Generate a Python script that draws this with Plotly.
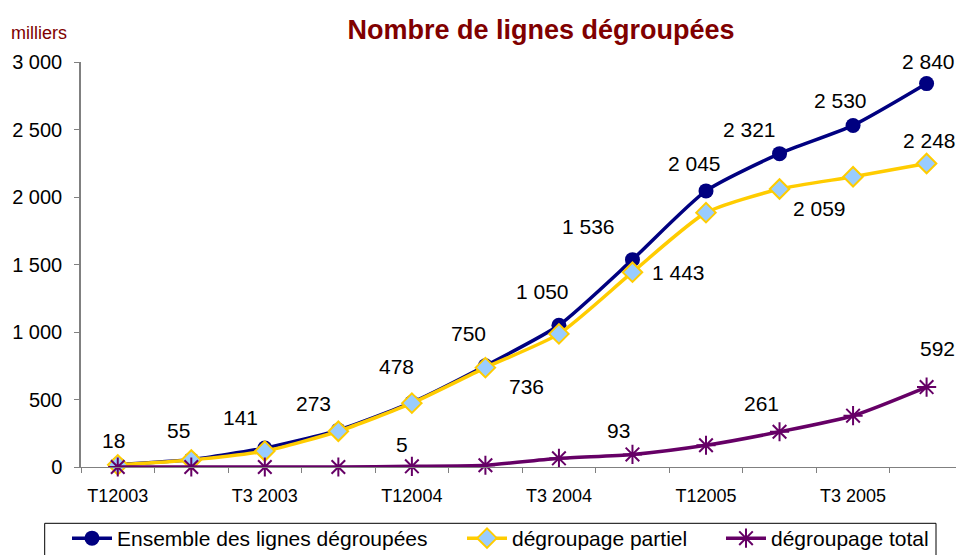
import plotly.graph_objects as go

quarters = ["T1 2003", "T2 2003", "T3 2003", "T4 2003",
            "T1 2004", "T2 2004", "T3 2004", "T4 2004",
            "T1 2005", "T2 2005", "T3 2005", "T4 2005"]
tick_labels = ["T12003", "T3 2003", "T12004", "T3 2004", "T12005", "T3 2005"]
ensemble = [18, 55, 141, 273, 478, 750, 1050, 1536, 2045, 2321, 2530, 2840]
partiel = [16, 52, 118, 265, 473, 736, 986, 1443, 1884, 2059, 2150, 2248]
total = [0, 0, 0, 0, 5, 13, 64, 93, 161, 261, 380, 592]

# which points carry a value label, with label offsets (dx, dy in px)
ens_lab = {0: (-4, 24), 1: (-13, 29), 2: (-24, 30), 3: (-25, 27), 4: (-15, 36),
           5: (-17, 32), 6: (-16, 34), 7: (-44, 33), 8: (-12, 27), 9: (-30, 24),
           10: (-13, 25), 11: (2, 22)}
par_lab = {5: (41, -19), 7: (46, 0), 9: (40, -19), 11: (3, 23)}
tot_lab = {4: (-10, 22), 7: (-14, 24), 9: (-18, 28), 11: (11, 39)}

x = list(range(len(quarters)))
FONT = "Liberation Sans, Arial"

# plot-area geometry (px) used to place legend boxes in paper units
L, T, B, W, H = 81, 62, 88, 956, 555
PW, PH = W - L, H - T - B


def px_x(p):
    return (p - L) / PW


def px_y(p):
    return (H - B - p) / PH


fig = go.Figure()
fig.add_trace(go.Scatter(
    x=x, y=ensemble, name="Ensemble des lignes dégroupées", mode="lines+markers",
    line=dict(color="#000080", width=3.5, shape="spline", smoothing=0.6),
    marker=dict(symbol="circle", size=15, color="#000080"),
    cliponaxis=False, legend="legend"))
fig.add_trace(go.Scatter(
    x=x, y=partiel, name="dégroupage partiel", mode="lines+markers",
    line=dict(color="#FFCC00", width=3.5, shape="spline", smoothing=0.6),
    marker=dict(symbol="diamond", size=15, color="#99CCFF",
                line=dict(color="#FFCC00", width=2)),
    cliponaxis=False, legend="legend2"))
fig.add_trace(go.Scatter(
    x=x, y=total, name="dégroupage total", mode="lines+markers",
    line=dict(color="#660066", width=3.5, shape="spline", smoothing=0.6),
    marker=dict(symbol="asterisk-open", size=16, color="#660066",
                line=dict(color="#660066", width=2)),
    cliponaxis=False, legend="legend3"))


def fmt(v):
    return f"{v:,}".replace(",", " ")


annotations = []
for series, labs in ((ensemble, ens_lab), (partiel, par_lab), (total, tot_lab)):
    for i, (dx, dy) in labs.items():
        annotations.append(dict(
            x=i, y=series[i], xref="x", yref="y", text=fmt(series[i]),
            showarrow=False, xshift=dx, yshift=dy,
            font=dict(family=FONT, size=21, color="#000000")))

annotations.append(dict(
    x=px_x(9), y=px_y(33), xref="paper", yref="paper",
    xanchor="left", yanchor="middle", text="milliers", showarrow=False,
    font=dict(size=18, color="#800000", family=FONT)))


def leg(text_left):
    return dict(orientation="h", x=px_x(text_left - 51), xanchor="left",
                y=px_y(518), yanchor="top", borderwidth=0, bgcolor="rgba(0,0,0,0)",
                font=dict(size=21, family=FONT), itemwidth=40)


fig.update_layout(
    width=W, height=H,
    margin=dict(l=L, r=0, t=T, b=B, autoexpand=False),
    paper_bgcolor="white", plot_bgcolor="white",
    separators=", ",
    font=dict(family=FONT, size=20, color="#000000"),
    title=dict(text="<b>Nombre de lignes dégroupées</b>", x=541 / W, xanchor="center",
               y=1 - 30 / H, yanchor="middle",
               font=dict(size=27, color="#800000", family=FONT)),
    showlegend=True,
    legend=leg(118),
    legend2=leg(513),
    legend3=leg(772),
    shapes=[dict(type="rect", xref="paper", yref="paper",
                 x0=px_x(44.7), x1=px_x(936), y0=px_y(523.3), y1=px_y(600),
                 line=dict(color="#000000", width=1), fillcolor="rgba(0,0,0,0)",
                 layer="below")],
    xaxis=dict(range=[-0.5, 11.4], showgrid=False, zeroline=False,
               showline=True, linecolor="#808080", linewidth=1,
               tickmode="array", tickvals=[0, 2, 4, 6, 8, 10], ticktext=tick_labels,
               ticks="", tickfont=dict(size=18), ticklabelstandoff=12,
               minor=dict(tickmode="array", tickvals=[i + 0.5 for i in range(-1, 12)],
                          ticks="outside", ticklen=5, tickcolor="#808080", showgrid=False)),
    yaxis=dict(range=[0, 3000], showgrid=False, zeroline=False,
               showline=True, linecolor="#808080", linewidth=1.5,
               tickmode="array", tickvals=[0, 500, 1000, 1500, 2000, 2500, 3000],
               tickformat=",d", ticks="outside", ticklen=5, tickcolor="#808080",
               tickfont=dict(size=20), ticklabelstandoff=8),
    annotations=annotations,
)

fig.write_html("out.html", config={"displayModeBar": False},
               post_script="document.body.style.margin='0';document.body.style.overflow='hidden';")
